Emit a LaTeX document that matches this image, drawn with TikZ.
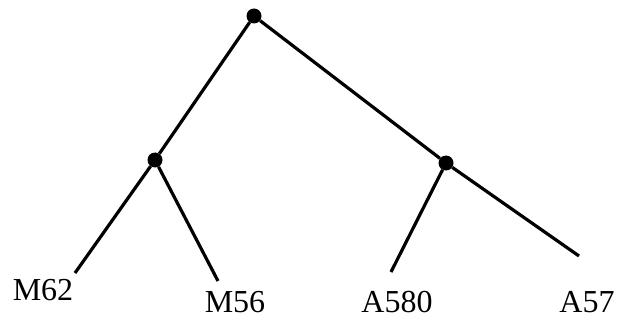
\documentclass[tikz,border=0pt]{standalone}
\usepackage{fontspec}
\setmainfont{Liberation Serif}
\usetikzlibrary{positioning}

\begin{document}
\begin{tikzpicture}[
    x=1pt, y=-1pt,
    branch/.style={line width=3.2pt},
    innernode/.style={circle, fill=black, inner sep=0pt, minimum size=15pt},
    leaf/.style={font=\fontsize{32}{36}\selectfont, inner sep=0pt}
]
\useasboundingbox (0,0) rectangle (621,326);

% Nodes
\node[innernode] (root) at (254,16) {};
\node[innernode] (left) at (155,160) {};
\node[innernode] (right) at (446,163) {};

\coordinate (m62end) at (75,273);
\coordinate (m56end) at (218,281);
\coordinate (a580end) at (391,272);
\coordinate (a57end) at (579,256);

\node[leaf] (m62) at (43,290) {M62};
\node[leaf] (m56) at (235,302) {M56};
\node[leaf] (a580) at (397,302) {A580};
\node[leaf] (a57) at (587,302) {A57};

% Branches
\draw[branch] (root) -- (left);
\draw[branch] (root) -- (right) -- (a57end);
\draw[branch] (left) -- (m62end);
\draw[branch] (left) -- (m56end);
\draw[branch] (right) -- (a580end);

\end{tikzpicture}
\end{document}
